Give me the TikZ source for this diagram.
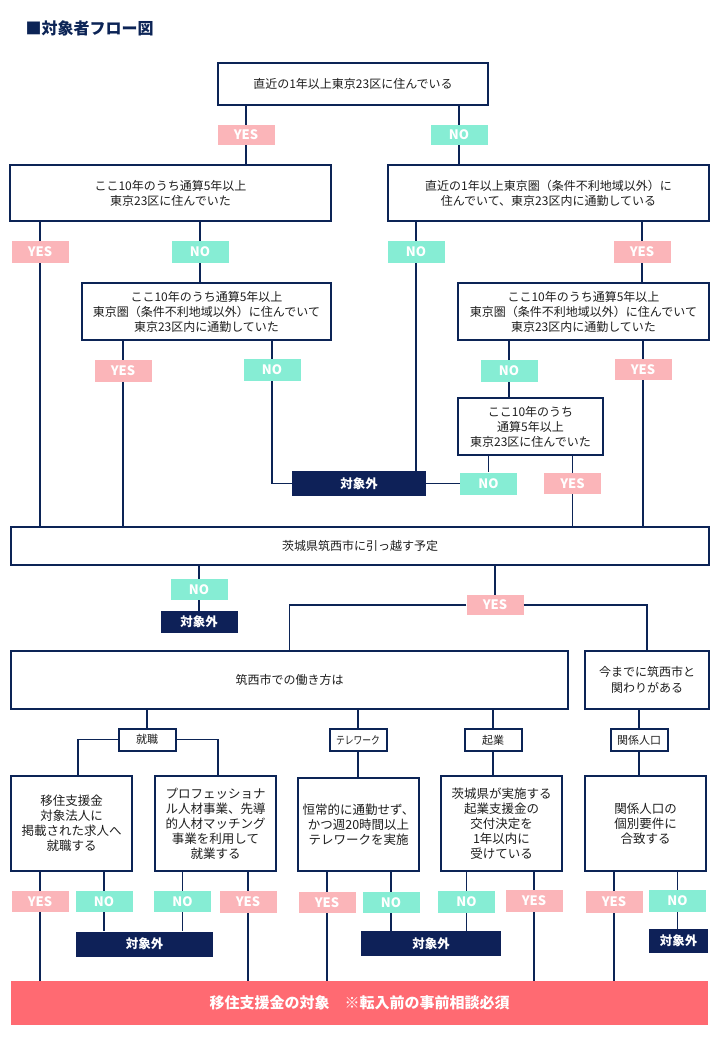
\documentclass[tikz,border=0pt]{standalone}
\usepackage{fontspec}
\setmainfont{Noto Sans CJK JP}
\definecolor{navy}{HTML}{0C2456}
\definecolor{outnavy}{HTML}{0E2158}
\definecolor{yespink}{HTML}{FBB5B9}
\definecolor{nomint}{HTML}{86EDD4}
\definecolor{goalred}{HTML}{FF6A72}
\definecolor{textgray}{HTML}{1E1E1E}
\begin{document}
\begin{tikzpicture}[x=1pt,y=-1pt,
	question/.style={shape=rectangle,draw=navy,line width=2.4pt,fill=white,align=center,text=textgray,font=\fontsize{12}{15}\selectfont,inner sep=0pt},
	yeslabel/.style={shape=rectangle,fill=yespink,text=white,font=\bfseries\fontsize{13}{13}\selectfont,minimum width=57pt,minimum height=21pt,inner sep=0pt},
	nolabel/.style={yeslabel,fill=nomint},
	outbox/.style={shape=rectangle,fill=outnavy,text=white,font=\bfseries\fontsize{12.5}{13}\selectfont,minimum height=25pt,inner sep=0pt},
	catbox/.style={shape=rectangle,draw=navy,line width=2pt,fill=white,text=textgray,font=\fontsize{11}{11}\selectfont,minimum width=57pt,minimum height=22pt,inner sep=0pt},
	wire/.style={draw=navy,line width=1.2pt}]
	\useasboundingbox (0,0) rectangle (720,1040);
	\node (title) at (22,28)[anchor=west,text=navy,font=\bfseries\fontsize{16}{16}\selectfont] {■対象者フロー図};

	\node (now23) at (353,84)[question,minimum width=270pt,minimum height=42pt] {直近の1年以上東京23区に住んでいる};
	\node (yesA) at (246,135)[yeslabel,minimum height=20pt] {YES};
	\node (noA) at (459,135)[nolabel,minimum height=20pt] {NO};
	\node (past23) at (170.5,193)[question,minimum width=321pt,minimum height=56pt] {ここ10年のうち通算5年以上\\東京23区に住んでいた};
	\node (nowken) at (548.5,193)[question,minimum width=321pt,minimum height=56pt] {直近の1年以上東京圏（条件不利地域以外）に\\住んでいて、東京23区内に通勤している};
	\node (yesB) at (40,252)[yeslabel,minimum height=22pt] {YES};
	\node (noB) at (200,252)[nolabel,minimum height=22pt] {NO};
	\node (noC) at (416,252)[nolabel,minimum height=22pt] {NO};
	\node (yesC) at (642,252)[yeslabel,minimum height=22pt] {YES};
	\node (pastkenL) at (206.5,311.5)[question,minimum width=249pt,minimum height=57pt] {ここ10年のうち通算5年以上\\東京圏（条件不利地域以外）に住んでいて\\東京23区内に通勤していた};
	\node (pastkenR) at (583.5,311.5)[question,minimum width=251pt,minimum height=57pt] {ここ10年のうち通算5年以上\\東京圏（条件不利地域以外）に住んでいて\\東京23区内に通勤していた};
	\node (yesD) at (123,371)[yeslabel,minimum height=22pt] {YES};
	\node (noD) at (272,370)[nolabel,minimum height=22pt] {NO};
	\node (noE) at (509,371)[nolabel,minimum height=22pt] {NO};
	\node (yesE) at (643,369.5)[yeslabel] {YES};
	\node (past23b) at (530.5,426.5)[question,minimum width=145pt,minimum height=57pt] {ここ10年のうち\\通算5年以上\\東京23区に住んでいた};
	\node (outA) at (359,483.5)[outbox,minimum width=134pt] {対象外};
	\node (noG) at (488.5,483.5)[nolabel,minimum height=22pt] {NO};
	\node (yesG) at (572.5,483.5)[yeslabel] {YES};

	\node (move) at (360,546)[question,minimum width=698pt,minimum height=38pt] {茨城県筑西市に引っ越す予定};
	\node (noF) at (199,589.5)[nolabel] {NO};
	\node (outB) at (199,622)[outbox,minimum width=77pt,minimum height=22pt] {対象外};
	\node (yesF) at (495,605)[yeslabel,minimum height=20pt] {YES};
	\node (work) at (289.5,680)[question,minimum width=557pt,minimum height=58pt] {筑西市での働き方は};
	\node (tie) at (647,680)[question,minimum width=124pt,minimum height=58pt,font=\fontsize{12}{16}\selectfont] {今までに筑西市と\\関わりがある};

	\node (job) at (147,739.5)[catbox] {就職};
	\node (tele) at (358,740)[catbox] {\scalebox{0.8}[1]{テレワーク}};
	\node (startup) at (493,740)[catbox] {起業};
	\node (rel) at (639,740)[catbox] {関係人口};

	\node (jobA) at (71.5,823.5)[question,minimum width=121pt,minimum height=95pt,font=\fontsize{12.5}{15}\selectfont] {移住支援金\\対象法人に\\掲載された求人へ\\就職する};
	\node (jobB) at (215.5,823.5)[question,minimum width=121pt,minimum height=95pt,font=\fontsize{12.5}{15}\selectfont] {プロフェッショナ\\ル人材事業、先導\\的人材マッチング\\事業を利用して\\就業する};
	\node (teleA) at (358.5,824.5)[question,minimum width=121pt,minimum height=93pt,font=\fontsize{12.5}{15}\selectfont] {恒常的に通勤せず、\\かつ週20時間以上\\テレワークを実施};
	\node (startA) at (501.5,823.5)[question,minimum width=121pt,minimum height=95pt,font=\fontsize{12.5}{15}\selectfont] {茨城県が実施する\\起業支援金の\\交付決定を\\1年以内に\\受けている};
	\node (relA) at (645.5,823.5)[question,minimum width=121pt,minimum height=95pt,font=\fontsize{12.5}{15}\selectfont] {関係人口の\\個別要件に\\合致する};

	\node (yesJ) at (40,901.5)[yeslabel] {YES};
	\node (noJ) at (104,901.5)[nolabel] {NO};
	\node (noK) at (182.5,901.5)[nolabel] {NO};
	\node (yesK) at (248,902)[yeslabel,minimum height=22pt] {YES};
	\node (yesL) at (327,902.5)[yeslabel] {YES};
	\node (noL) at (391,902.5)[nolabel] {NO};
	\node (noM) at (466.5,902)[nolabel,minimum height=22pt] {NO};
	\node (yesM) at (534,901)[yeslabel,minimum height=22pt] {YES};
	\node (yesN) at (614,902)[yeslabel,minimum height=22pt] {YES};
	\node (noN) at (677.5,901)[nolabel,minimum height=22pt] {NO};
	\node (outC) at (144.5,944)[outbox,minimum width=137pt] {対象外};
	\node (outD) at (431,943.5)[outbox,minimum width=140pt] {対象外};
	\node (outE) at (678.5,941)[outbox,minimum width=59pt,minimum height=24pt] {対象外};

	\node (goal) at (359.5,1003)[shape=rectangle,fill=goalred,text=white,font=\bfseries\fontsize{15}{15}\selectfont,minimum width=697pt,minimum height=44pt] {移住支援金の対象　※転入前の事前相談必須};

	\draw[wire] (now23.south -| yesA) -- (yesA);
	\draw[wire] (yesA) -- (yesA |- past23.north);
	\draw[wire] (now23.south -| noA) -- (noA);
	\draw[wire] (noA) -- (noA |- nowken.north);
	\draw[wire] (past23.south -| yesB) -- (yesB);
	\draw[wire] (yesB) -- (yesB |- move.north);
	\draw[wire] (past23.south -| noB) -- (noB);
	\draw[wire] (noB) -- (noB |- pastkenL.north);
	\draw[wire] (nowken.south -| noC) -- (noC);
	\draw[wire] (noC) -- (noC |- outA.north);
	\draw[wire] (nowken.south -| yesC) -- (yesC);
	\draw[wire] (yesC) -- (yesC |- pastkenR.north);
	\draw[wire] (pastkenL.south -| yesD) -- (yesD);
	\draw[wire] (yesD) -- (yesD |- move.north);
	\draw[wire] (pastkenL.south -| noD) -- (noD);
	\draw[wire] (noD) |- (outA.west);
	\draw[wire] (pastkenR.south -| noE) -- (noE);
	\draw[wire] (noE) -- (noE |- past23b.north);
	\draw[wire] (pastkenR.south -| yesE) -- (yesE);
	\draw[wire] (yesE) -- (yesE |- move.north);
	\draw[wire] (past23b.south -| noG) -- (noG);
	\draw[wire] (noG.west) -- (noG.west -| outA.east);
	\draw[wire] (past23b.south -| yesG) -- (yesG);
	\draw[wire] (yesG) -- (yesG |- move.north);

	\draw[wire] (move.south -| noF) -- (noF);
	\draw[wire] (noF) -- (outB);
	\draw[wire] (move.south -| yesF) -- (yesF);
	\draw[wire] (yesF) -| (work.north);
	\draw[wire] (yesF) -| (tie.north);

	\draw[wire] (work.south -| job) -- (job);
	\draw[wire] (work.south -| tele) -- (tele);
	\draw[wire] (work.south -| startup) -- (startup);
	\draw[wire] (tie.south -| rel) -- (rel);
	\draw[wire] (job.west) -| ([xshift=6.5pt]jobA.north);
	\draw[wire] (job.east) -| ([xshift=2.5pt]jobB.north);
	\draw[wire] (tele) -- (tele |- teleA.north);
	\draw[wire] (startup) -- (startup |- startA.north);
	\draw[wire] (rel) -- (rel |- relA.north);

	\draw[wire] (jobA.south -| yesJ) -- (yesJ);
	\draw[wire] (yesJ) -- (yesJ |- goal.north);
	\draw[wire] (jobA.south -| noJ) -- (noJ);
	\draw[wire] (noJ) -- (noJ |- outC.north);
	\draw[wire] (jobB.south -| noK) -- (noK);
	\draw[wire] (noK) -- (noK |- outC.north);
	\draw[wire] (jobB.south -| yesK) -- (yesK);
	\draw[wire] (yesK) -- (yesK |- goal.north);
	\draw[wire] (teleA.south -| yesL) -- (yesL);
	\draw[wire] (yesL) -- (yesL |- goal.north);
	\draw[wire] (teleA.south -| noL) -- (noL);
	\draw[wire] (noL) -- (noL |- outD.north);
	\draw[wire] (startA.south -| noM) -- (noM);
	\draw[wire] (noM) -- (noM |- outD.north);
	\draw[wire] (startA.south -| yesM) -- (yesM);
	\draw[wire] (yesM) -- (yesM |- goal.north);
	\draw[wire] (relA.south -| yesN) -- (yesN);
	\draw[wire] (yesN) -- (yesN |- goal.north);
	\draw[wire] (relA.south -| noN) -- (noN);
	\draw[wire] (noN) -- (noN |- outE.north);
\end{tikzpicture}
\end{document}
